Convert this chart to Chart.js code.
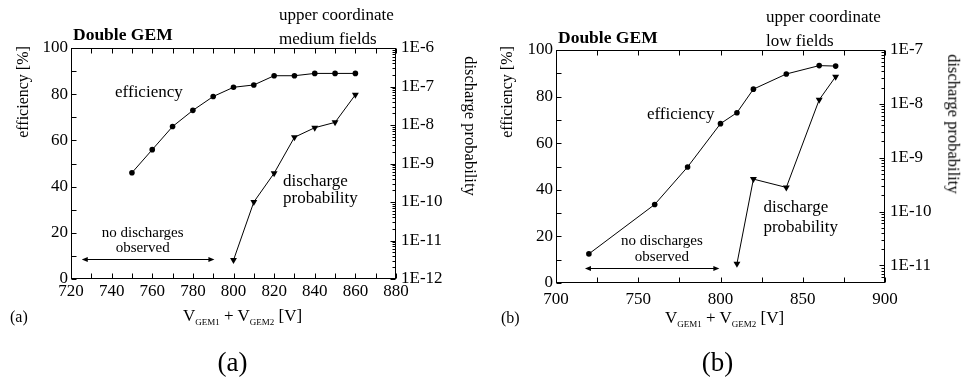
<!DOCTYPE html>
<html>
<head>
<meta charset="utf-8">
<script src="https://cdn.jsdelivr.net/npm/chart.js@4.4.1/dist/chart.umd.min.js"></script>
<style>
html, body { margin: 0; padding: 0; background: #fff; }
#stage { position: relative; width: 965px; height: 382px; overflow: hidden; font-family: "Liberation Serif", "Times New Roman", serif; color: #000; }
#stage canvas { position: absolute; top: 0; }
.lbl { position: absolute; white-space: nowrap; line-height: 1; }
.lbl sub { font-size: 9px; vertical-align: -4px; line-height: 0; }
</style>
</head>
<body>
<div id="stage">
  <canvas id="chartA" width="482" height="382" style="left:0px"></canvas>
  <canvas id="chartB" width="483" height="382" style="left:482px"></canvas>
</div>
<script>
// ---- panel (a): upper coordinate, medium fields ----
const voltageA = [750, 760, 770, 780, 790, 800, 810, 820, 830, 840, 850, 860];
const efficiencyA = [46, 56, 66, 73, 79, 83, 84, 88, 88, 89, 89, 89];
const dischargeVoltageA = [800, 810, 820, 830, 840, 850, 860];
const dischargeA = [3.1e-12, 1.0e-10, 5.6e-10, 4.8e-9, 8.5e-9, 1.17e-8, 6.1e-8];
const xTicksA = [720, 740, 760, 780, 800, 820, 840, 860, 880];
const decadesA = [-12, -11, -10, -9, -8, -7, -6];

// ---- panel (b): upper coordinate, low fields ----
const voltageB = [720, 760, 780, 800, 810, 820, 840, 860, 870];
const efficiencyB = [12.5, 33.7, 49.8, 68.4, 73.1, 83.2, 89.7, 93.3, 93.1];
const dischargeVoltageB = [810, 820, 840, 860, 870];
const dischargeB = [1.07e-11, 4.0e-10, 2.8e-10, 1.19e-8, 3.2e-8];
const xTicksB = [700, 750, 800, 850, 900];
const decadesB = [-11, -10, -9, -8, -7];

const efficiencyTicks = [0, 20, 40, 60, 80, 100];

const FONT = '"Liberation Serif", "Times New Roman", serif';

// frame with inward tick marks on all four sides
const framePlugin = {
    id: 'frame',
    afterDatasetsDraw(chart, args, opts) {
        const ctx = chart.ctx;
        const a = chart.chartArea;
        const xs = chart.scales.x, ys = chart.scales.y, ls = chart.scales.y2;
        const L = Math.round(a.left) + 0.5, R = Math.round(a.right) - 0.5;
        const T = Math.round(a.top) + 0.5, B = Math.round(a.bottom) - 0.5;
        ctx.save();
        ctx.strokeStyle = '#000';
        ctx.lineWidth = 1;
        ctx.beginPath();
        // x ticks, bottom and top
        for (let v = xs.min; v <= xs.max + 1e-9; v += opts.xStep) {
            const px = Math.round(xs.getPixelForValue(v)) + 0.5;
            ctx.moveTo(px, B); ctx.lineTo(px, B - 5);
            ctx.moveTo(px, T); ctx.lineTo(px, T + 5);
        }
        // efficiency ticks on the left
        for (let v = ys.min; v <= ys.max + 1e-9; v += opts.yStep) {
            const py = Math.round(ys.getPixelForValue(v)) + 0.5;
            ctx.moveTo(L, py); ctx.lineTo(L + 5, py);
        }
        // log ticks on the right
        const e0 = Math.floor(Math.log10(ls.min)), e1 = Math.ceil(Math.log10(ls.max));
        for (let e = e0; e <= e1; e++) {
            for (let m = 1; m <= 9; m++) {
                const v = m * Math.pow(10, e);
                if (v < ls.min * 0.999 || v > ls.max * 1.001) continue;
                const py = Math.round(ls.getPixelForValue(v)) + 0.5;
                ctx.moveTo(R, py); ctx.lineTo(R - (m === 1 ? 5 : 3), py);
            }
        }
        ctx.stroke();
        ctx.strokeRect(L, T, R - L, B - T);
        ctx.restore();
    }
};

// in-plot notes and the "no discharges" arrow, placed in data units
const notesPlugin = {
    id: 'notes',
    afterDatasetsDraw(chart, args, opts) {
        const ctx = chart.ctx;
        const xs = chart.scales.x, ys = chart.scales.y;
        ctx.save();
        ctx.fillStyle = '#000';
        ctx.textBaseline = 'middle';
        opts.texts.forEach(t => {
            ctx.font = t.size + 'px ' + FONT;
            ctx.textAlign = t.align;
            ctx.fillText(t.text, xs.getPixelForValue(t.x), ys.getPixelForValue(t.y));
        });
        const ar = opts.arrow;
        const x1 = xs.getPixelForValue(ar.from), x2 = xs.getPixelForValue(ar.to);
        const y = Math.round(ys.getPixelForValue(ar.y)) + 0.5;
        ctx.strokeStyle = '#000';
        ctx.lineWidth = 1;
        ctx.beginPath();
        ctx.moveTo(x1 + 2, y); ctx.lineTo(x2 - 2, y);
        ctx.stroke();
        ctx.beginPath();
        ctx.moveTo(x1, y); ctx.lineTo(x1 + 6, y - 2.5); ctx.lineTo(x1 + 6, y + 2.5); ctx.closePath();
        ctx.moveTo(x2, y); ctx.lineTo(x2 - 6, y - 2.5); ctx.lineTo(x2 - 6, y + 2.5); ctx.closePath();
        ctx.fill();
        ctx.restore();
    }
};

function buildPanel(canvasId, p) {
    const canvas = document.getElementById(canvasId);
    const tickFont = { family: FONT, size: 17 };
    return new Chart(canvas, {
        type: 'line',
        data: {
            datasets: [{
                label: 'efficiency',
                data: p.volts.map((v, i) => ({ x: v, y: p.eff[i] })),
                yAxisID: 'y',
                borderColor: '#000',
                borderWidth: 1,
                pointStyle: 'circle',
                pointRadius: 2.8,
                pointBackgroundColor: '#000',
                pointBorderColor: '#000',
                pointBorderWidth: 0,
                tension: 0
            }, {
                label: 'discharge probability',
                data: p.dischVolts.map((v, i) => ({ x: v, y: p.disch[i] })),
                yAxisID: 'y2',
                borderColor: '#000',
                borderWidth: 1,
                pointStyle: 'triangle',
                pointRotation: 180,
                pointRadius: 4,
                pointBackgroundColor: '#000',
                pointBorderColor: '#000',
                pointBorderWidth: 0,
                tension: 0
            }]
        },
        options: {
            responsive: false,
            animation: false,
            devicePixelRatio: 1,
            layout: { padding: { top: p.area.top, left: 0, right: 0, bottom: 0 } },
            plugins: {
                legend: { display: false },
                tooltip: { enabled: false },
                frame: { xStep: p.xMinor, yStep: 10 },
                notes: { texts: p.notes, arrow: p.arrow }
            },
            scales: {
                x: {
                    type: 'linear',
                    min: p.xTicks[0],
                    max: p.xTicks[p.xTicks.length - 1],
                    afterBuildTicks: s => { s.ticks = p.xTicks.map(v => ({ value: v })); },
                    ticks: { font: tickFont, color: '#000', padding: p.xPad, autoSkip: false, maxRotation: 0 },
                    grid: { display: false, drawTicks: false },
                    border: { display: false },
                    afterFit: s => { s.height = canvas.height - p.area.bottom; }
                },
                y: {
                    type: 'linear',
                    position: 'left',
                    min: 0,
                    max: 100,
                    afterBuildTicks: s => { s.ticks = efficiencyTicks.map(v => ({ value: v })); },
                    ticks: { font: tickFont, color: '#000', padding: 3, autoSkip: false },
                    grid: { display: false, drawTicks: false },
                    border: { display: false },
                    afterFit: s => { s.width = p.area.left; }
                },
                y2: {
                    type: 'logarithmic',
                    position: 'right',
                    min: p.logMin,
                    max: Math.pow(10, p.decades[p.decades.length - 1]),
                    afterBuildTicks: s => { s.ticks = p.decades.map(e => ({ value: Math.pow(10, e) })); },
                    ticks: {
                        font: tickFont, color: '#000', padding: 5, autoSkip: false,
                        callback: v => '1E' + Math.round(Math.log10(v))
                    },
                    grid: { display: false, drawTicks: false },
                    border: { display: false },
                    afterFit: s => { s.width = canvas.width - p.area.right; }
                }
            }
        },
        plugins: [framePlugin, notesPlugin]
    });
}

buildPanel('chartA', {
    volts: voltageA, eff: efficiencyA, dischVolts: dischargeVoltageA, disch: dischargeA,
    xTicks: xTicksA, xMinor: 10, decades: decadesA, logMin: 1e-12, xPad: 2,
    area: { left: 71, right: 396, top: 48, bottom: 279 },
    notes: [
        { text: 'efficiency', x: 741.7, y: 80.6, size: 17, align: 'left' },
        { text: 'discharge', x: 824.4, y: 42.1, size: 17, align: 'left' },
        { text: 'probability', x: 824.4, y: 34.9, size: 17, align: 'left' },
        { text: 'no discharges', x: 755.3, y: 19.8, size: 15, align: 'center' },
        { text: 'observed', x: 755.3, y: 13.3, size: 15, align: 'center' }
    ],
    arrow: { from: 725.3, to: 790.6, y: 8.7 }
});

buildPanel('chartB', {
    volts: voltageB, eff: efficiencyB, dischVolts: dischargeVoltageB, disch: dischargeB,
    xTicks: xTicksB, xMinor: 25, decades: decadesB, logMin: 4.7e-12, xPad: 6,
    area: { left: 74, right: 403, top: 50, bottom: 283 },
    notes: [
        { text: 'efficiency', x: 755.3, y: 72.2, size: 17, align: 'left' },
        { text: 'discharge', x: 826.1, y: 32.2, size: 17, align: 'left' },
        { text: 'probability', x: 826.1, y: 23.6, size: 17, align: 'left' },
        { text: 'no discharges', x: 764.4, y: 17.9, size: 15, align: 'center' },
        { text: 'observed', x: 764.4, y: 11.2, size: 15, align: 'center' }
    ],
    arrow: { from: 717.6, to: 799.3, y: 6.5 }
});

// text around the plots
const stage = document.getElementById('stage');
function addLabel(html, x, y, size, opts) {
    opts = opts || {};
    const el = document.createElement('div');
    el.className = 'lbl';
    el.innerHTML = html;
    el.style.left = x + 'px';
    el.style.top = y + 'px';
    el.style.fontSize = size + 'px';
    if (opts.bold) el.style.fontWeight = 'bold';
    const shift = opts.center ? 'translate(-50%,-50%)' : 'translate(0,-50%)';
    el.style.transform = shift + (opts.rotate ? ' rotate(' + opts.rotate + 'deg)' : '');
    stage.appendChild(el);
}

const xTitle = 'V<sub>GEM1</sub> + V<sub>GEM2</sub> [V]';

addLabel('Double GEM', 73, 35, 17.5, { bold: true });
addLabel('upper coordinate', 279, 13.5, 17);
addLabel('medium fields', 279, 37.5, 17);
addLabel('efficiency [%]', 23, 92, 16, { center: true, rotate: -90 });
addLabel('discharge probability', 470, 126, 16.5, { center: true, rotate: 90 });
addLabel('(a)', 10, 317, 16);
addLabel(xTitle, 183, 315, 17);
addLabel('(a)', 232.5, 362, 27, { center: true });

addLabel('Double GEM', 558, 38, 17.5, { bold: true });
addLabel('upper coordinate', 766, 16, 17);
addLabel('low fields', 766, 40, 17);
addLabel('efficiency [%]', 507, 92, 16, { center: true, rotate: -90 });
addLabel('discharge probability', 953, 124, 16.5, { center: true, rotate: 90 });
addLabel('(b)', 501, 318, 16);
addLabel(xTitle, 665, 317, 17);
addLabel('(b)', 717.5, 362, 27, { center: true });
</script>
</body>
</html>
